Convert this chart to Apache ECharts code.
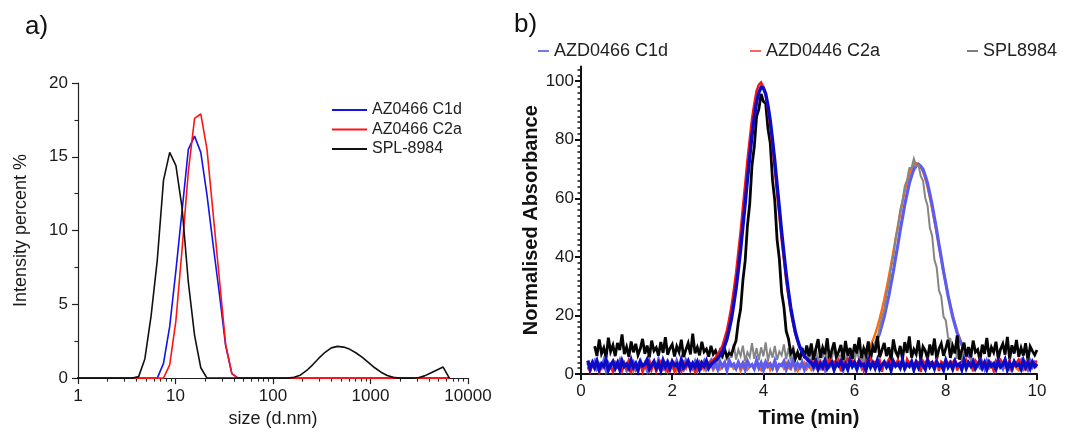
<!DOCTYPE html>
<html><head><meta charset="utf-8">
<script src="https://cdn.jsdelivr.net/npm/echarts@6/dist/echarts.min.js"></script>
<style>html,body{margin:0;padding:0;background:#fff}#chart{width:1070px;height:433px}</style>
</head><body><div id="chart"></div>
<script>
const FONT = '"Liberation Sans", Arial, Helvetica, sans-serif';

// ---------- Panel a) DLS size distribution ----------
const dlsNames = ['AZ0466 C1d', 'AZ0466 C2a', 'SPL-8984'];
const sizes = [0.9649, 1.117, 1.294, 1.499, 1.736, 2.010, 2.328, 2.696, 3.122, 3.615,
  4.187, 4.849, 5.615, 6.503, 7.531, 8.721, 10.10, 11.70, 13.54, 15.69,
  18.17, 21.04, 24.36, 28.21, 32.67, 37.84, 43.82, 50.75, 58.77, 68.06,
  78.82, 91.28, 105.7, 122.4, 141.8, 164.2, 190.1, 220.2, 255.0, 295.3,
  342.0, 396.1, 458.7, 531.2, 615.1, 712.4, 825.0, 955.4, 1106, 1281,
  1484, 1718, 1990, 2305, 2669, 3091, 3580, 4145, 4801, 5560,
  6439];
const dlsC1d = [0,0,0,0,0,0,0,0,0,0,
  0,0,0,0,1.0,3.5,7.3,11.4,15.5,16.4,
  15.3,12.4,9.0,5.7,2.2,0.3,0,0,0,0,
  0,0,0,0,0,0,0,0,0,0,
  0,0,0,0,0,0,0,0,0,0,
  0,0,0,0,0,0,0,0,0,0,
  0];
const dlsC2a = [0,0,0,0,0,0,0,0,0,0,
  0,0,0,0,0,0.9,3.9,8.8,14.0,17.6,
  17.9,15.5,11.1,6.7,2.3,0.3,0,0,0,0,
  0,0,0,0,0,0,0,0,0,0,
  0,0,0,0,0,0,0,0,0,0,
  0,0,0,0,0,0,0,0,0,0,
  0];
const dlsSPL = [0,0,0,0,0,0,0,0,0,0,
  0.1,1.3,4.2,8.0,13.4,15.3,14.4,11.5,6.5,2.9,
  0.7,0,0,0,0,0,0,0,0,0,
  0,0,0,0,0,0.05,0.2,0.5,0.9,1.35,
  1.75,2.05,2.15,2.1,1.95,1.7,1.4,1.05,0.7,0.4,
  0.18,0.05,0,0,0,0.02,0.15,0.35,0.55,0.75,
  0];
const sizeTickMinor = [2,3,4,5,6,7,8,9,20,30,40,50,60,70,80,90,200,300,400,500,600,700,800,900,2000,3000,4000,5000,6000,7000,8000,9000];

// ---------- Panel b) chromatograms (sampled every 0.05 min from 0) ----------
const hplcNames = ['AZD0466 C1d', 'AZD0446 C2a', 'SPL8984'];
const timeStart = 0, timeStep = 0.05;
const c1dTrace1 = [
  null,null,null,4.6,1.8,3.9,2.2,4.4,1.6,3.5,2.7,4.8,1.4,3.1,4.2,2.0,3.8,1.5,4.5,2.6,
  3.4,1.9,4.7,2.3,3.6,1.2,4.1,2.8,3.3,4.9,1.7,3.0,4.3,2.1,3.7,1.3,4.6,2.5,3.9,1.8,
  4.2,2.9,3.5,1.4,4.8,2.2,3.1,4.4,1.9,3.6,2.4,4.1,1.6,3.8,2.7,4.5,2.0,3.3,4.0,4.6,
  5.3,6.4,7.6,9.7,11.9,15.2,18.9,23.8,29.1,35.6,42.4,50.3,58.1,66.4,74.0,81.5,87.6,92.8,96.1,97.9,
  97.6,95.7,91.7,86.6,79.9,72.7,64.6,56.7,48.5,41.2,34.1,28.1,22.6,18.3,14.4,11.6,9.1,7.5,6.0,5.2,
  4.4,3.8,2.6,4.3,1.7,3.5,2.4,4.6,1.9,3.2,4.0,1.5,3.7,2.8,4.4,2.1,3.4,1.6,4.7,2.6,
  3.9,1.8,4.2,2.9,3.3,1.4,4.5,2.3,3.8,2.0,4.6,1.7,3.1,4.1,2.4,3.6,1.3,4.3,2.7,3.5,
  2.1,4.8,1.9,3.4,2.6,4.2,1.5,3.9,2.2,4.4,3.0,1.6,4.5,2.5,3.7,1.8,4.1,2.8,3.2,1.4,
  4.6,2.3,3.6,1.7,4.3,2.9,3.4,1.5,4.7,2.0,3.8,2.6,4.2,1.9,3.3,4.5,2.2,3.9,1.6,4.0,
  2.7,3.5,1.8,4.4,2.4,3.1,4.8,1.5,3.7,2.1,4.2,2.8,3.4,1.7,4.6,2.3,3.9,1.9,4.1,2.6,
  3.3];
const c1dTrace2 = [
  null,null,null,3.8,1.6,2.9,4.4,1.9,3.3,2.2,4.6,1.4,3.7,2.5,4.1,1.8,3.0,4.7,2.0,3.5,
  1.5,4.3,2.6,3.9,1.7,3.2,4.5,2.1,3.6,1.3,4.0,2.8,3.4,1.9,4.8,2.3,3.1,1.6,4.2,2.7,
  3.8,1.4,4.4,2.4,3.3,1.8,4.6,2.9,3.5,2.0,4.1,1.5,3.7,2.6,4.3,1.7,3.0,4.5,2.2,3.6,
  1.6,4.2,2.5,3.9,1.3,4.7,2.8,3.4,1.9,4.0,2.3,3.7,1.5,4.4,2.7,3.2,1.8,4.6,2.1,3.8,
  1.4,4.1,2.6,3.5,2.0,4.5,1.7,3.3,2.9,4.3,1.6,3.9,2.4,4.8,1.9,3.6,2.2,4.0,1.5,3.4,
  2.7,4.4,1.8,3.1,4.2,2.3,3.7,1.6,4.6,2.5,3.3,1.9,4.1,2.8,3.5,1.4,4.3,2.1,3.8,2.6,
  3.2,1.7,4.5,2.4,4.9,5.3,6.2,7.1,8.4,10.0,11.9,14.0,16.8,19.6,23.2,26.7,31.0,35.1,39.8,44.2,
  49.1,53.4,57.8,61.5,65.1,67.7,69.9,71.0,71.6,71.0,69.9,67.7,65.1,61.5,57.8,53.4,49.1,44.2,39.8,35.1,
  31.0,26.7,23.2,19.6,16.8,14.0,11.9,10.0,8.4,7.1,6.2,5.3,4.6,4.1,3.4,2.2,3.9,1.8,4.4,2.6,
  3.5,1.6,4.2,2.9,3.3,1.9,4.6,2.4,3.7,1.5,4.0,2.7,3.1,4.5,2.0,3.6,1.7,4.3,2.5,3.9,
  2.8];
const c2aTrace1 = [
  null,null,null,2.4,0.8,3.6,1.9,4.2,0.6,3.1,2.2,4.5,1.3,2.8,0.7,3.9,2.5,4.1,1.0,3.3,
  2.0,4.4,0.9,3.5,2.6,1.2,4.0,0.6,3.0,2.3,4.6,1.5,3.7,0.8,2.9,4.2,1.7,3.4,0.7,2.7,
  4.3,1.1,3.2,2.4,0.9,3.8,2.1,4.5,1.4,3.6,0.7,2.8,4.1,1.9,3.3,2.5,3.9,4.3,5.0,5.6,
  6.8,8.1,9.6,12.3,15.0,18.9,23.2,28.7,34.5,41.7,48.8,57.1,64.8,73.1,80.2,87.2,92.3,96.7,98.8,99.6,
  98.0,95.3,90.3,84.7,77.3,70.0,61.5,53.9,45.7,38.9,31.9,26.5,21.2,17.4,13.6,11.3,8.9,7.5,6.1,5.5,
  4.8,4.5,3.8,4.9,3.5,4.4,1.2,4.7,3.6,5.1,3.9,4.3,3.4,4.8,0.9,4.2,3.7,5.2,3.5,4.6,
  4.0,3.3,4.9,3.7,1.1,4.5,3.6,5.3,3.8,4.2,3.4,4.7,0.8,4.1,3.5,5.0,3.9,4.4,3.2,4.8,
  3.6,4.3,1.3,5.1,3.7,4.0,3.3,4.6,3.9,0.7,4.5,3.5,5.2,3.8,4.1,3.4,4.9,1.0,4.2,3.6,
  4.7,3.3,4.4,3.9,5.0,1.2,3.7,4.3,3.5,4.8,3.8,4.1,0.9,4.6,3.4,5.1,3.6,4.2,3.9,4.5,
  3.5,1.1,4.4,3.7,4.9,3.6,4.2,3.3,4.7,0.8,4.0,3.8,5.0,3.4,4.3,1.2,4.6,3.5,4.1,3.9,
  4.4];
const c2aTrace2 = [
  null,null,null,2.3,1.1,3.4,1.8,2.7,0.9,3.1,2.0,1.4,3.6,2.4,1.2,2.9,3.3,1.6,2.2,3.8,
  1.3,2.6,3.5,1.0,2.8,1.9,3.7,1.5,2.5,3.2,0.8,2.1,3.9,1.7,2.9,1.2,3.4,2.3,1.6,3.0,
  2.0,3.6,1.1,2.7,3.3,1.4,2.4,3.8,1.8,2.2,3.1,0.9,2.6,3.5,1.5,2.8,1.9,3.4,1.3,2.5,
  3.7,1.6,2.3,3.9,1.2,2.9,3.3,1.8,2.1,3.6,1.0,2.7,3.8,1.5,2.4,3.2,1.7,3.5,2.0,1.3,
  3.4,2.2,3.9,1.4,2.8,3.6,1.1,2.5,3.3,1.9,3.7,2.1,1.6,3.5,2.6,1.0,3.1,2.4,3.8,1.7,
  2.9,1.5,3.4,2.2,1.2,3.6,2.7,1.8,3.0,2.3,3.9,1.4,2.6,3.3,1.9,2.8,3.7,2.4,3.3,2.9,
  3.3,3.6,4.2,4.9,5.8,6.8,8.1,9.7,11.5,13.6,16.1,18.9,22.0,25.4,29.2,33.2,37.4,41.8,46.2,50.6,
  54.8,58.8,62.5,65.6,68.2,70.2,71.5,72.0,71.8,70.8,69.1,66.7,63.8,60.3,56.5,52.3,48.0,43.6,39.2,34.9,
  30.8,26.9,23.3,20.1,17.1,14.5,12.3,10.3,8.7,7.3,6.2,5.2,4.5,3.9,3.4,3.0,1.6,2.8,3.5,1.9,
  2.6,3.4,1.2,2.9,3.7,1.8,2.3,3.2,1.5,2.7,3.6,2.0,1.3,3.1,2.5,3.8,1.7,2.4,3.3,2.1,
  2.6];
const splTrace1 = [
  null,null,null,null,null,null,9.5,6.2,11.8,7.0,8.9,5.6,12.4,7.7,9.8,6.1,10.6,8.2,13.5,6.8,
  9.2,5.9,11.1,7.4,10.3,6.5,8.6,12.0,6.9,9.7,5.7,11.4,7.9,9.0,6.3,10.9,7.2,12.6,6.6,8.8,
  10.1,6.0,9.4,7.5,11.7,5.8,8.3,10.5,6.7,13.8,7.1,9.1,6.4,11.0,7.6,8.5,5.9,9.6,6.8,8.0,
  5.7,7.9,6.2,8.4,5.9,7.1,6.6,9.3,11.4,17.8,22.1,31.9,38.6,50.7,58.1,71.2,77.6,87.9,90.4,95.6,
  93.1,92.4,83.8,78.9,66.2,59.1,45.9,39.2,27.8,22.9,14.6,12.0,7.1,8.3,5.2,7.4,4.9,8.8,5.6,9.7,
  6.1,10.4,4.8,8.6,11.9,5.5,9.0,6.7,12.2,4.6,8.1,10.8,5.9,7.6,9.9,4.7,11.3,6.3,8.9,5.2,
  10.2,7.0,12.5,5.4,8.7,6.5,11.1,4.9,9.4,7.3,13.0,5.7,8.2,10.6,6.1,9.1,4.5,11.8,7.7,6.0,
  9.6,5.0,10.9,7.2,12.8,5.6,8.4,6.8,11.5,4.8,9.3,7.9,5.3,10.1,6.4,12.1,5.1,8.6,10.4,6.2,
  8.8,11.7,5.5,9.5,7.1,13.2,4.9,8.0,10.7,6.0,9.2,5.7,11.4,7.5,8.3,4.6,10.0,6.9,12.3,5.8,
  9.1,7.4,11.0,5.2,8.5,10.3,6.6,12.7,5.0,9.8,7.0,11.6,5.9,8.9,6.3,10.5,4.7,9.4,7.8,6.5,
  8.2];
// second SPL trace: only the part not hidden beneath the black trace is visible in the figure
const splTrace2 = [
  null,null,null,null,null,null,null,null,null,null,null,null,null,null,null,null,null,null,null,null,
  null,null,null,null,null,null,null,null,null,null,null,null,null,null,null,null,null,null,null,null,
  null,null,null,null,null,null,null,null,null,null,null,null,null,null,null,null,null,null,null,5.9,
  4.3,8.6,5.1,9.4,4.6,7.8,5.5,10.2,4.9,8.3,6.1,9.7,4.4,7.4,5.8,10.5,5.2,8.8,4.7,9.1,
  6.0,10.8,4.5,8.1,5.6,9.6,4.8,7.7,6.4,10.1,5.0,8.9,4.3,9.8,5.7,7.2,4.6,9.3,5.3,8.4,
  4.9,7.6,5.4,8.8,4.1,6.9,5.8,8.2,3.8,7.4,5.2,9.0,4.4,6.5,5.9,8.6,4.0,7.1,5.5,8.3,
  4.7,7.8,5.0,6.6,4.3,8.0,5.6,7.2,8.6,10.9,12.1,15.9,19.4,22.0,27.3,30.4,36.4,40.1,46.5,50.1,
  55.9,59.0,64.2,66.1,70.3,70.4,73.5,71.0,71.4,67.6,66.0,60.1,57.5,49.9,47.2,39.1,36.4,28.6,26.5,19.6,
  18.3,12.4,12.0,7.5,9.1,5.2,8.4,4.6,7.9,5.7,9.2,4.3,null,null,null,null,null,null,null,null,
  null,null,null,null,null,null,null,null,null,null,null,null,null,null,null,null,null,null,null,null,
  null];
const absTickMinor = [2,4,6,8,10,12,14,16,18,22,24,26,28,30,32,34,36,38,42,44,46,48,50,52,54,56,58,
  62,64,66,68,70,72,74,76,78,82,84,86,88,90,92,94,96,98,102,104];

// ---------- build ----------
const pairsDLS = vals => sizes.map((s, i) => [s, vals[i]]);
const pairsTime = vals => vals.map((v, i) => [+(timeStart + i * timeStep).toFixed(2), v]).filter(p => p[1] !== null);

const axisTxt = {fontFamily: FONT, color: '#1a1a1a'};
const chart = echarts.init(document.getElementById('chart'), null, {renderer: 'canvas'});

const dlsSeries = (name, vals, color) => ({
  type: 'line', name, xAxisIndex: 0, yAxisIndex: 0, data: pairsDLS(vals),
  showSymbol: false, symbol: 'none', color, lineStyle: {width: 1.6, color}, clip: true
});
const hplcSeries = (name, vals, color, width, opacity) => ({
  type: 'line', name, xAxisIndex: 2, yAxisIndex: 1, data: pairsTime(vals),
  showSymbol: false, symbol: 'none', color, sampling: null,
  lineStyle: {width, color, opacity: opacity == null ? 1 : opacity, join: 'miter', miterLimit: 4}, clip: true
});

chart.setOption({
  animation: false,
  backgroundColor: '#fff',
  textStyle: {fontFamily: FONT},
  title: [
    {text: 'a)', left: 20, top: 9, textStyle: {fontSize: 26, fontWeight: 'normal', color: '#111', fontFamily: FONT}},
    {text: 'b)', left: 509, top: 7, textStyle: {fontSize: 26, fontWeight: 'normal', color: '#111', fontFamily: FONT}}
  ],
  legend: [
    {data: dlsNames, left: 327, top: 97, orient: 'vertical', icon: 'rect', itemWidth: 35, itemHeight: 2,
      itemGap: 3.5, itemTextGap: 5, selectedMode: false,
      textStyle: {fontSize: 16, color: '#222', fontFamily: FONT}},
    {data: [{name: hplcNames[0], itemStyle: {color: '#3f4fe0'}}], left: 533, top: 37, icon: 'rect',
      itemWidth: 11, itemHeight: 1.5, itemTextGap: 6, selectedMode: false,
      textStyle: {fontSize: 18, color: '#222', fontFamily: FONT}},
    {data: [{name: hplcNames[1], itemStyle: {color: '#ff3030'}}], left: 745, top: 37, icon: 'rect',
      itemWidth: 11, itemHeight: 1.5, itemTextGap: 6, selectedMode: false,
      textStyle: {fontSize: 18, color: '#222', fontFamily: FONT}},
    {data: [{name: hplcNames[2], itemStyle: {color: '#555'}}], left: 962, top: 37, icon: 'rect',
      itemWidth: 11, itemHeight: 1.5, itemTextGap: 6, selectedMode: false,
      textStyle: {fontSize: 18, color: '#222', fontFamily: FONT}}
  ],
  grid: [
    {left: 78, top: 83, width: 390, height: 295.5},
    {left: 581, top: 66.5, width: 456, height: 313.5}
  ],
  xAxis: [
    {gridIndex: 0, type: 'log', logBase: 10, min: 1, max: 10000, position: 'bottom',
      name: 'size (d.nm)', nameLocation: 'middle', nameGap: 31,
      nameTextStyle: {fontSize: 18, color: '#1a1a1a', fontFamily: FONT},
      axisLine: {lineStyle: {color: '#222', width: 1.2}},
      axisTick: {length: 6, lineStyle: {color: '#222', width: 1.2}},
      axisLabel: Object.assign({fontSize: 17, margin: 10, formatter: v => String(Math.round(v))}, axisTxt),
      splitLine: {show: false}},
    {gridIndex: 0, type: 'log', logBase: 10, min: 1, max: 10000, position: 'bottom', offset: 0,
      axisLine: {show: false}, axisLabel: {show: false}, splitLine: {show: false},
      axisTick: {show: true, customValues: sizeTickMinor, length: 3.5, lineStyle: {color: '#222', width: 1.1}}},
    {gridIndex: 1, type: 'value', min: 0, max: 10, interval: 2, position: 'bottom',
      name: 'Time (min)', nameLocation: 'middle', nameGap: 34,
      nameTextStyle: {fontSize: 20, fontWeight: 'bold', color: '#111', fontFamily: FONT},
      axisLine: {lineStyle: {color: '#111', width: 2}},
      axisTick: {length: 6, lineStyle: {color: '#111', width: 2}},
      axisLabel: Object.assign({fontSize: 17, margin: 9}, axisTxt),
      splitLine: {show: false}}
  ],
  yAxis: [
    {gridIndex: 0, type: 'value', min: 0, max: 20, interval: 5, position: 'left',
      name: 'Intensity percent %', nameLocation: 'middle', nameGap: 48,
      nameTextStyle: {fontSize: 18, color: '#1a1a1a', fontFamily: FONT},
      axisLine: {show: true, lineStyle: {color: '#222', width: 1.2}},
      axisTick: {show: true, length: 6, lineStyle: {color: '#222', width: 1.2}},
      minorTick: {show: true, splitNumber: 2, length: 3.5, lineStyle: {color: '#222', width: 1.1}},
      axisLabel: Object.assign({fontSize: 17, margin: 10}, axisTxt),
      splitLine: {show: false}},
    {gridIndex: 1, type: 'value', min: 0, max: 105, interval: 20, position: 'left',
      name: 'Normalised Absorbance', nameLocation: 'middle', nameGap: 29,
      nameTextStyle: {fontSize: 20, fontWeight: 'bold', color: '#111', fontFamily: FONT},
      axisLine: {show: true, lineStyle: {color: '#111', width: 2}},
      axisTick: {show: true, length: 6, lineStyle: {color: '#111', width: 2}},
      axisLabel: Object.assign({fontSize: 17, margin: 7, showMaxLabel: false}, axisTxt),
      splitLine: {show: false}},
    {gridIndex: 1, type: 'value', min: 0, max: 105, position: 'left', offset: 0,
      axisLine: {show: false}, axisLabel: {show: false}, splitLine: {show: false},
      axisTick: {show: true, customValues: absTickMinor, length: 3.5, lineStyle: {color: '#111', width: 1.5}}}
  ],
  series: [
    dlsSeries(dlsNames[0], dlsC1d, '#1414e8'),
    dlsSeries(dlsNames[1], dlsC2a, '#ff1414'),
    dlsSeries(dlsNames[2], dlsSPL, '#111111'),
    hplcSeries(hplcNames[1], c2aTrace2, '#ff6a10', 2.4),
    hplcSeries(hplcNames[0], c1dTrace2, '#5c5cee', 3.2),
    hplcSeries(hplcNames[2], splTrace2, '#858585', 2.0),
    hplcSeries(hplcNames[2], splTrace1, '#050505', 2.8),
    hplcSeries(hplcNames[1], c2aTrace1, '#f01818', 2.4),
    hplcSeries(hplcNames[0], c1dTrace1, '#0c0cc8', 3.4)
  ]
});
</script>
</body></html>
